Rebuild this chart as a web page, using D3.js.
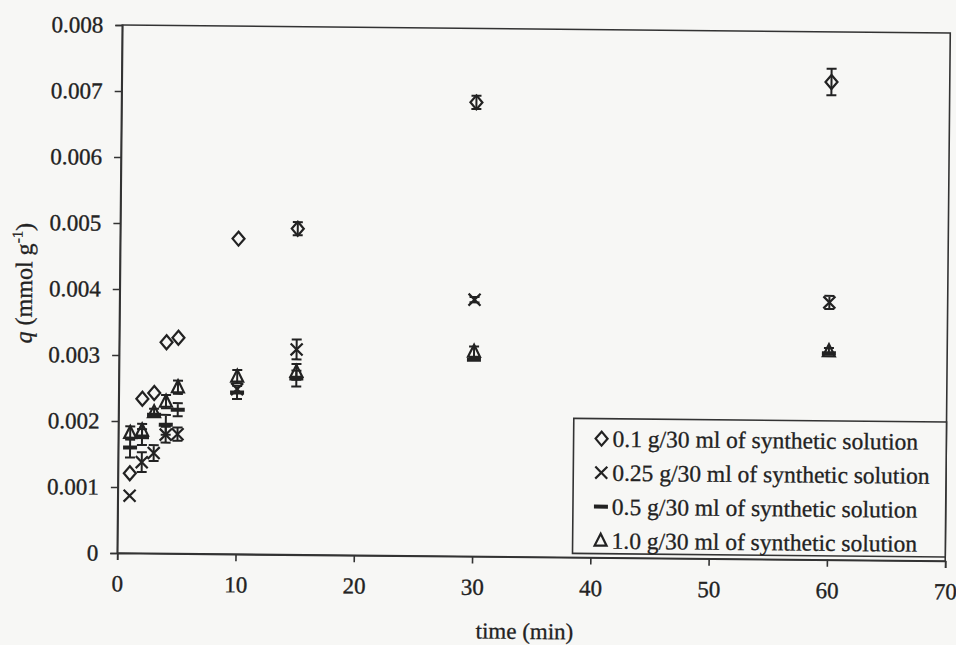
<!DOCTYPE html>
<html><head><meta charset="utf-8">
<script src="https://cdn.jsdelivr.net/npm/d3@7"></script>
<style>html,body{margin:0;padding:0;background:#f7f7f5;}svg{display:block;}</style>
</head><body>
<svg id="c" width="956" height="645"></svg>
<script>
const times = [1, 2, 3, 4, 5, 10, 15, 30, 60];
const s01  = [0.00121, 0.00234, 0.00243, 0.00320, 0.00327, 0.00478, 0.00494, 0.00688, 0.00724];
const e01  = [0, 0, 0, 0, 0, 0, 0.0001, 0.0001, 0.0002];
const s025 = [0.00087, 0.00138, 0.00152, 0.00180, 0.00181, 0.00250, 0.00311, 0.00389, 0.00390];
const e025 = [0, 0.00015, 0.00012, 0.00012, 0.0001, 0, 0.00015, 0.00004, 0.0001];
const s05  = [0.00160, 0.00176, 0.00210, 0.00195, 0.00218, 0.00245, 0.00267, 0.00298, 0.00313];
const e05  = [0.00015, 0.00012, 0, 0.00015, 0.0001, 0.0001, 0.00012, 0, 0];
const s10  = [0.00182, 0.00186, 0.00214, 0.00230, 0.00252, 0.00269, 0.00277, 0.00310, 0.00316];
const e10  = [0.0001, 0.0001, 0.00005, 0.0001, 0.0001, 0.0001, 0.00012, 0.00008, 0.00005];
const xTicks = [0, 10, 20, 30, 40, 50, 60, 70];
const yTicks = [0, 0.001, 0.002, 0.003, 0.004, 0.005, 0.006, 0.007, 0.008];
const legendLabels = ["0.1 g/30 ml of synthetic solution", "0.25 g/30 ml of synthetic solution",
                      "0.5 g/30 ml of synthetic solution", "1.0 g/30 ml of synthetic solution"];
const markerKinds = ["diamond", "cross", "dash", "triangle"];

const L = 119.75, R = 947.75, T = 29, B = 557;
const font = "'Liberation Serif','Times New Roman',serif";
const ink = "#222";
const svg = d3.select("#c");
svg.append("rect").attr("width", 956).attr("height", 645).attr("fill", "#f7f7f5");
const g = svg.append("g").attr("transform", `rotate(0.55, ${(L+R)/2}, ${(T+B)/2})`);

const x = d3.scaleLinear().domain([0, 70]).range([L, R]);
const y = d3.scaleLinear().domain([0, 0.008]).range([B, T]);

g.append("rect").attr("x", L).attr("y", T).attr("width", R - L).attr("height", B - T)
  .attr("fill", "none").attr("stroke", "#333").attr("stroke-width", 1.6);

const xa = g.append("g").attr("transform", `translate(0,${B})`)
  .call(d3.axisBottom(x).tickValues(xTicks).tickSize(7).tickPadding(15).tickFormat(d3.format("d")));
const ya = g.append("g").attr("transform", `translate(${L},0)`)
  .call(d3.axisLeft(y).tickValues(yTicks).tickSize(7).tickPadding(12)
    .tickFormat(d => d === 0 ? "0" : d3.format(".3f")(d)));
[xa, ya].forEach(a => {
  a.select(".domain").attr("stroke", "#333").attr("stroke-width", 1.6);
  a.selectAll(".tick line").attr("stroke", "#333").attr("stroke-width", 1.6);
  a.selectAll(".tick text").attr("font-family", font).attr("font-size", 23).attr("fill", ink)
    .attr("stroke", ink).attr("stroke-width", 0.35);
});

g.append("text").attr("x", (L + R) / 2 - 6).attr("y", 639).attr("text-anchor", "middle")
  .attr("font-family", font).attr("font-size", 23).attr("fill", ink)
  .attr("stroke", ink).attr("stroke-width", 0.3).text("time (min)");
const yt = g.append("text").attr("transform", `translate(32,${288}) rotate(-90)`)
  .attr("text-anchor", "middle").attr("font-family", font).attr("font-size", 24).attr("fill", ink)
  .attr("stroke", ink).attr("stroke-width", 0.3);
yt.append("tspan").attr("font-style", "italic").text("q");
yt.append("tspan").text("  (mmol g");
yt.append("tspan").attr("font-size", 15).attr("dy", -10).text("-1");
yt.append("tspan").attr("dy", 10).text(")");

function marker(sel, kind, cx, cy) {
  const s = ink;
  if (kind === "diamond") {
    sel.append("path").attr("d", `M${cx},${cy-7}L${cx+6},${cy}L${cx},${cy+7}L${cx-6},${cy}Z`)
      .attr("fill", "none").attr("stroke", s).attr("stroke-width", 2.2);
  } else if (kind === "cross") {
    sel.append("path").attr("d", `M${cx-6},${cy-6}L${cx+6},${cy+6}M${cx-6},${cy+6}L${cx+6},${cy-6}`)
      .attr("fill", "none").attr("stroke", s).attr("stroke-width", 2.2);
  } else if (kind === "dash") {
    sel.append("rect").attr("x", cx - 7).attr("y", cy - 2).attr("width", 14).attr("height", 4).attr("fill", s);
  } else {
    sel.append("path").attr("d", `M${cx},${cy-7}L${cx+6},${cy+5}L${cx-6},${cy+5}Z`)
      .attr("fill", "none").attr("stroke", s).attr("stroke-width", 2.2);
  }
}

const seriesVals = [s01, s025, s05, s10];
const seriesErr = [e01, e025, e05, e10];
const pts = g.append("g");
seriesVals.forEach((vals, si) => {
  vals.forEach((v, i) => {
    const cx = x(times[i]), cy = y(v), e = seriesErr[si][i];
    if (e > 0) {
      const y1 = y(v + e), y2 = y(v - e);
      pts.append("path").attr("d", `M${cx},${y1}L${cx},${y2}M${cx-5},${y1}L${cx+5},${y1}M${cx-5},${y2}L${cx+5},${y2}`)
        .attr("stroke", ink).attr("stroke-width", 2).attr("fill", "none");
    }
    marker(pts, markerKinds[si], cx, cy);
  });
});

const lg = g.append("g");
lg.append("rect").attr("x", 575).attr("y", 418).attr("width", R - 575).attr("height", 135)
  .attr("fill", "#f7f7f5").attr("stroke", "#333").attr("stroke-width", 1.6);
legendLabels.forEach((lab, i) => {
  const cy = 438 + i * 34;
  marker(lg, markerKinds[i], 603, cy);
  lg.append("text").attr("x", 614).attr("y", cy + 8).attr("font-family", font).attr("font-size", 23.5)
    .attr("fill", ink).attr("stroke", ink).attr("stroke-width", 0.3).text(lab);
});
</script>
</body></html>
